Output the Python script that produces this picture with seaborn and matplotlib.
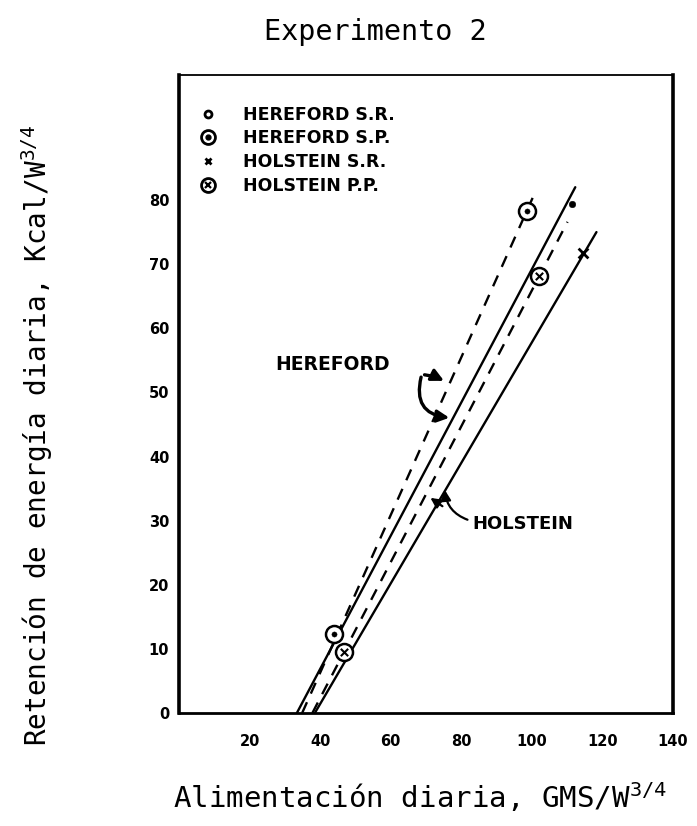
import matplotlib
matplotlib.use("Agg")
import matplotlib.pyplot as plt
from matplotlib.lines import Line2D
from matplotlib.legend_handler import HandlerTuple
import seaborn as sns
import pandas as pd

# ---- data ----
x_ticks = [20, 40, 60, 80, 100, 120, 140]
y_ticks = [0, 10, 20, 30, 40, 50, 60, 70, 80]

# regression lines (endpoints)
hereford_sr_line_x = [33.4, 112.3]
hereford_sr_line_y = [0.0, 82.0]
hereford_sp_line_x = [34.9, 101.0]
hereford_sp_line_y = [0.0, 81.3]
holstein_pp_line_x = [37.8, 110.1]
holstein_pp_line_y = [0.0, 76.6]
holstein_sr_line_x = [38.5, 118.3]
holstein_sr_line_y = [0.0, 75.0]

# observed points
hereford_sr_x = [111.3]
hereford_sr_y = [79.4]
hereford_sp_x = [43.8, 98.6]
hereford_sp_y = [12.3, 78.3]
holstein_sr_x = [114.5]
holstein_sr_y = [71.8]
holstein_pp_x = [46.8, 102.0]
holstein_pp_y = [9.5, 68.2]

legend_labels = ["HEREFORD S.R.", "HEREFORD S.P.", "HOLSTEIN S.R.", "HOLSTEIN P.P."]

sns.set_theme(style="white")
plt.rcParams["font.family"] = ["DejaVu Sans"]
plt.rcParams["text.color"] = "black"
plt.rcParams["axes.labelcolor"] = "black"
plt.rcParams["xtick.color"] = "black"
plt.rcParams["ytick.color"] = "black"
plt.rcParams["mathtext.fontset"] = "custom"
plt.rcParams["mathtext.rm"] = "DejaVu Sans Mono"
plt.rcParams["mathtext.it"] = "DejaVu Sans Mono"

fig = plt.figure(figsize=(6.97, 8.26), dpi=100)
ax = fig.add_axes([0.2568, 0.1368, 0.7088, 0.7724])

K = "black"
lines = [
    (hereford_sr_line_x, hereford_sr_line_y, "-"),
    (hereford_sp_line_x, hereford_sp_line_y, (0, (5, 4))),
    (holstein_pp_line_x, holstein_pp_line_y, (0, (5, 4))),
    (holstein_sr_line_x, holstein_sr_line_y, "-"),
]
for lx, ly, ls in lines:
    d = pd.DataFrame({"x": lx, "y": ly})
    sns.lineplot(data=d, x="x", y="y", ax=ax, color=K, lw=1.7,
                 linestyle=ls, estimator=None, sort=False)

# markers
sns.scatterplot(x=hereford_sr_x, y=hereford_sr_y, ax=ax, color=K, s=22,
                marker="o", edgecolor=K, zorder=5)
sns.scatterplot(x=hereford_sp_x, y=hereford_sp_y, ax=ax, s=150, marker="o",
                facecolor="white", edgecolor=K, linewidth=1.8, zorder=5)
sns.scatterplot(x=hereford_sp_x, y=hereford_sp_y, ax=ax, s=14, marker="o",
                color=K, edgecolor=K, zorder=6)
sns.scatterplot(x=holstein_sr_x, y=holstein_sr_y, ax=ax, s=50, marker="x",
                color=K, linewidth=2, zorder=5)
sns.scatterplot(x=holstein_pp_x, y=holstein_pp_y, ax=ax, s=150, marker="o",
                facecolor="white", edgecolor=K, linewidth=1.8, zorder=5)
sns.scatterplot(x=holstein_pp_x, y=holstein_pp_y, ax=ax, s=28, marker="x",
                color=K, linewidth=1.5, zorder=6)

ax.set_xlim(0, 140)
ax.set_ylim(0, 99.5)
ax.set_xticks(x_ticks)
ax.set_yticks(y_ticks)
ax.set_xticklabels([str(v) for v in x_ticks], fontsize=10.5, fontweight="bold")
ax.set_yticklabels([str(v) for v in y_ticks], fontsize=10.5, fontweight="bold")
ax.tick_params(axis="both", direction="in", length=5, width=1.5,
               colors=K, labelcolor=K)
ax.tick_params(axis="x", pad=15)
ax.tick_params(axis="y", pad=7)
ax.set_xlabel("")
ax.set_ylabel("")
for side, lw in [("left", 2.6), ("right", 2.6), ("bottom", 2.0), ("top", 1.3)]:
    ax.spines[side].set_visible(True)
    ax.spines[side].set_linewidth(lw)
    ax.spines[side].set_color(K)

# legend
h_sr = Line2D([], [], ls="none", marker="o", ms=5, mfc="white", mec=K, mew=2)
h_sp = (Line2D([], [], ls="none", marker="o", ms=10, mfc="white", mec=K, mew=2),
        Line2D([], [], ls="none", marker="o", ms=3.5, mfc=K, mec=K))
h_hx = Line2D([], [], ls="none", marker="x", ms=5, mec=K, mew=2)
h_pp = (Line2D([], [], ls="none", marker="o", ms=10, mfc="white", mec=K, mew=2),
        Line2D([], [], ls="none", marker="x", ms=4.5, mec=K, mew=1.6))
leg = ax.legend([h_sr, h_sp, h_hx, h_pp], legend_labels,
                handler_map={tuple: HandlerTuple(ndivide=1, pad=0)},
                loc="upper left", bbox_to_anchor=(0.037, 0.952), frameon=False,
                prop={"weight": "bold", "size": 12.5}, handlelength=1.2,
                handletextpad=1.45, labelspacing=0.33, borderaxespad=0,
                borderpad=0)
for t in leg.get_texts():
    t.set_color(K)

# annotations
ax.text(43.4, 54.4, "HEREFORD", fontsize=13.5, fontweight="bold",
        ha="center", va="center")
ax.text(83.0, 29.4, "HOLSTEIN", fontsize=13, fontweight="bold",
        ha="left", va="center")
ap = dict(arrowstyle="-|>,head_length=0.6,head_width=0.3", color=K, lw=2.4)
ax.annotate("", xy=(75.8, 51.6), xytext=(68.8, 52.8),
            arrowprops=dict(ap, connectionstyle="arc3,rad=-0.1"))
ax.annotate("", xy=(77.4, 46.0), xytext=(68.8, 52.8),
            arrowprops=dict(ap, connectionstyle="arc3,rad=0.6"))
ap2 = dict(arrowstyle="-|>,head_length=0.5,head_width=0.25", color=K, lw=1.6)
ax.annotate("", xy=(75.3, 35.2), xytext=(82.5, 30.0),
            arrowprops=dict(ap2, connectionstyle="arc3,rad=-0.35"))
ax.annotate("", xy=(70.6, 33.8), xytext=(75.3, 32.0),
            arrowprops=dict(ap2, connectionstyle="arc3,rad=0.0"))

# titles / axis labels
mono = ["DejaVu Sans Mono"]
fig.text(0.538, 0.961, "Experimento 2", fontsize=20.5, family=mono,
         ha="center", va="center", color=K)
fig.text(0.603, 0.035, r"Alimentación diaria, GMS/W$^{3/4}$", fontsize=21,
         family=mono, ha="center", va="center", color=K)
fig.text(0.053, 0.473, r"Retención de energía diaria, Kcal/W$^{3/4}$",
         fontsize=20, family=mono, rotation=90, ha="center", va="center",
         color=K)

fig.savefig("out.png", dpi=100)
